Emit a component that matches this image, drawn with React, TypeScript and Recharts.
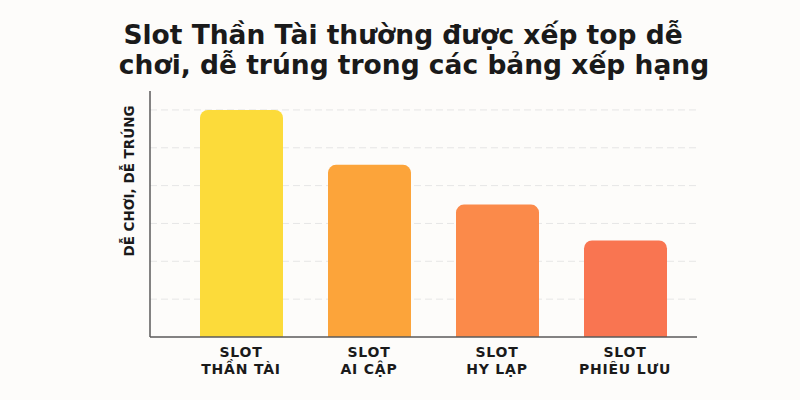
import { BarChart, Bar, XAxis, YAxis, CartesianGrid, Cell } from 'recharts'

const CATEGORIES = ['SLOT|THẦN TÀI', 'SLOT|AI CẬP', 'SLOT|HY LẠP', 'SLOT|PHIÊU LƯU']
const SCORES = [6.0, 4.55, 3.5, 2.55]
const BAR_COLORS = ['#FCDB3A', '#FCA43A', '#FB8A4A', '#F97551']
const Y_TICKS = [0, 1, 2, 3, 4, 5, 6]
const GRID_VALUES = [1, 2, 3, 4, 5, 6]
const TITLE_LINES = ['Slot Thần Tài thường được xếp top dễ', 'chơi, dễ trúng trong các bảng xếp hạng']
const Y_LABEL = 'DỄ CHƠI, DỄ TRÚNG'

const data = CATEGORIES.map((name, i) => ({ name, score: SCORES[i] }))

const FONT = '"DejaVu Sans", sans-serif'

function CategoryTick({ x, y, payload }: any) {
    const [top, bottom] = String(payload.value).split('|')
    return (
        <g transform={`translate(${x},${y})`}>
            <text
                textAnchor="middle"
                fontFamily={FONT}
                fontWeight={700}
                fontSize={14}
                letterSpacing={0.8}
                fill="#1a1a1a"
            >
                <tspan x={0} dy={12}>{top}</tspan>
                <tspan x={0} dy={17}>{bottom}</tspan>
            </text>
        </g>
    )
}

function YLabel() {
    const cx = 129
    const cy = 181
    return (
        <text
            x={cx}
            y={cy}
            transform={`rotate(-90, ${cx}, ${cy})`}
            textAnchor="middle"
            dominantBaseline="central"
            fontFamily={FONT}
            fontWeight={700}
            fontSize={13.5}
            fill="#1a1a1a"
        >
            {Y_LABEL}
        </text>
    )
}

export default function App() {
    return (
        <div style={{ position: 'absolute', left: 0, top: 0, width: 800, height: 400, background: '#FDFCFA' }}>
            <div
                style={{
                    position: 'absolute',
                    left: 0,
                    top: 20,
                    width: 800,
                    fontFamily: FONT,
                    fontWeight: 700,
                    fontSize: 26.5,
                    lineHeight: '30px',
                    color: '#1a1a1a',
                    textAlign: 'center',
                }}
            >
                <div style={{ marginLeft: 6 }}>{TITLE_LINES[0]}</div>
                <div style={{ marginLeft: 28 }}>{TITLE_LINES[1]}</div>
            </div>
            <BarChart
                width={800}
                height={400}
                data={data}
                margin={{ top: 91, right: 103, bottom: 13, left: 110 }}
                style={{ position: 'absolute', left: 0, top: 0 }}
            >
                <CartesianGrid
                    vertical={false}
                    horizontalValues={GRID_VALUES}
                    stroke="#E6E6E6"
                    strokeDasharray="7 4"
                />
                <XAxis
                    dataKey="name"
                    axisLine={{ stroke: '#5a5a5a', strokeWidth: 1.5 }}
                    tickLine={false}
                    tick={<CategoryTick />}
                    height={50}
                    interval={0}
                    padding={{ left: 27, right: 8 }}
                />
                <YAxis
                    domain={[0, 6.5]}
                    ticks={Y_TICKS}
                    tick={{ fill: 'none' }}
                    tickLine={false}
                    width={40}
                    axisLine={{ stroke: '#5a5a5a', strokeWidth: 1.5 }}
                    label={<YLabel />}
                />
                <Bar dataKey="score" barSize={83} radius={[8, 8, 0, 0]} isAnimationActive={false}>
                    {data.map((d, i) => (
                        <Cell key={d.name} fill={BAR_COLORS[i]} />
                    ))}
                </Bar>
            </BarChart>
        </div>
    )
}
